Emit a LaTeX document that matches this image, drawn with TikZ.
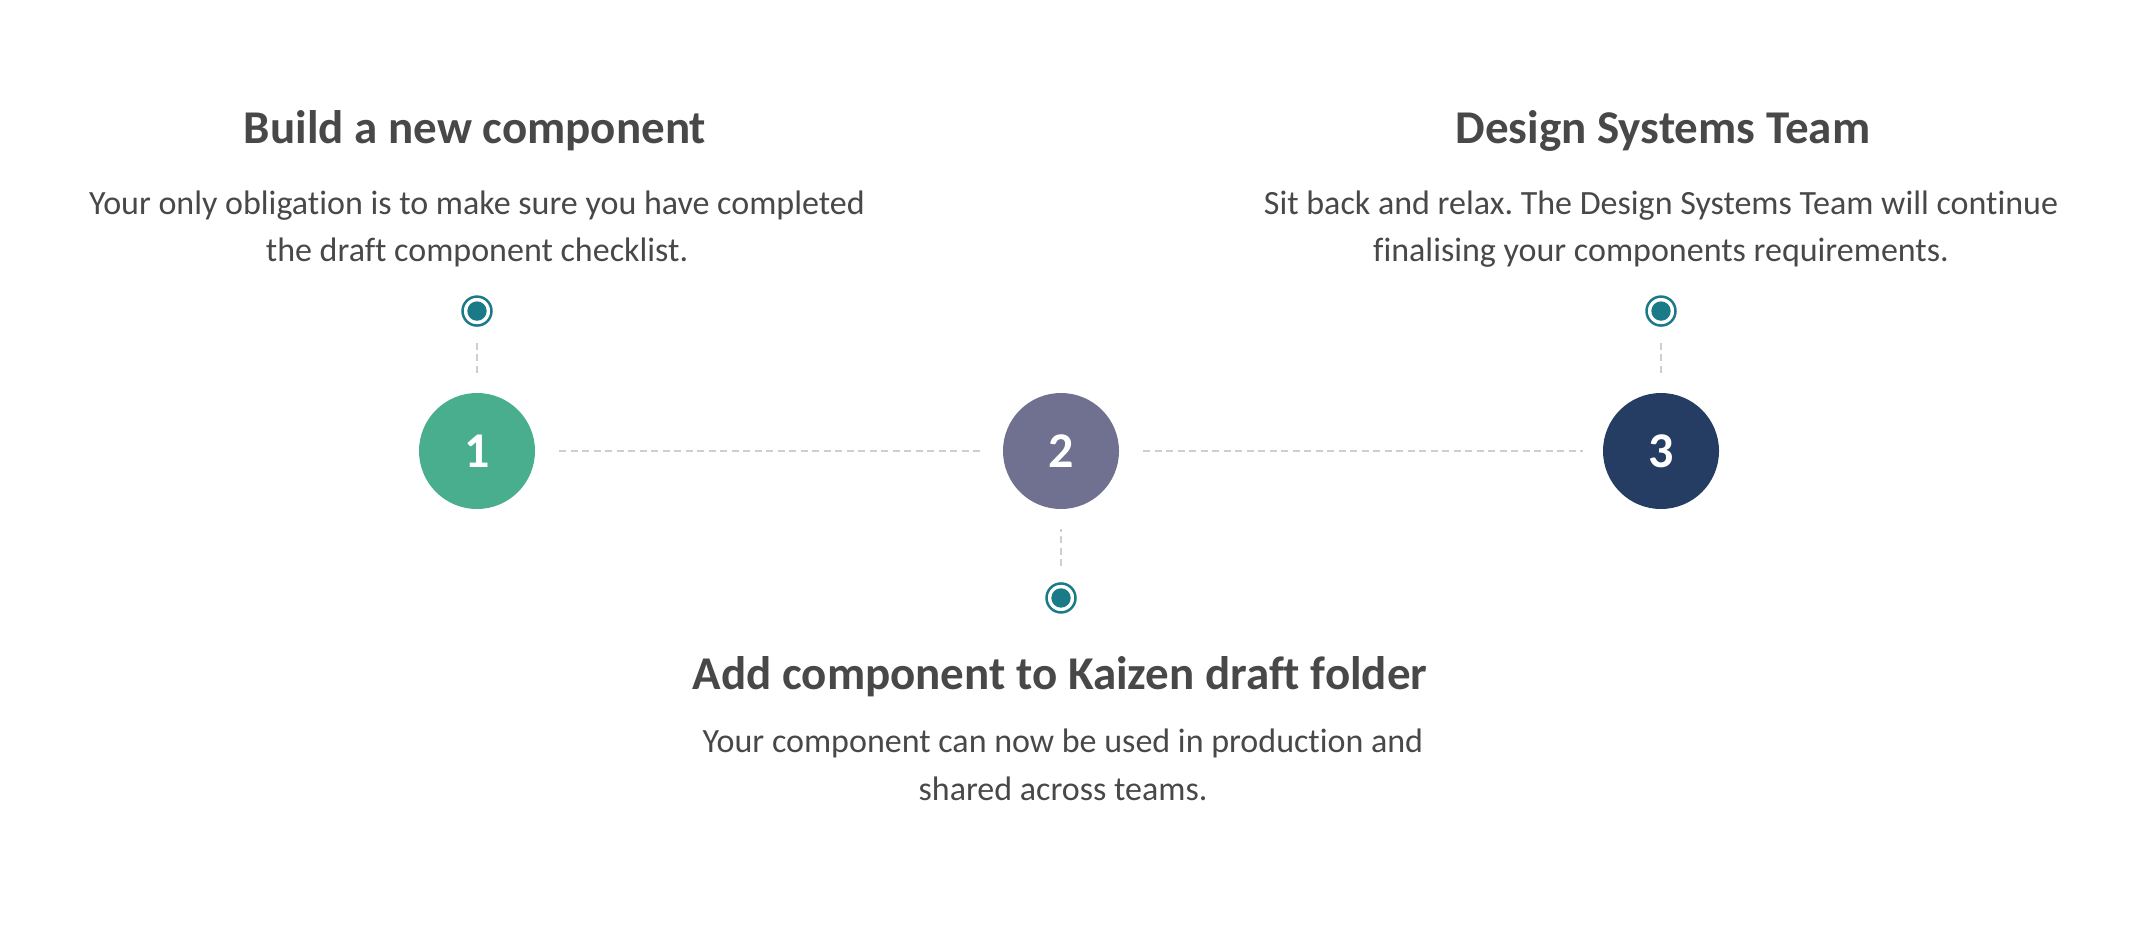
\documentclass[tikz,border=0pt]{standalone}
\usepackage{fontspec}
\setmainfont[Ligatures=NoCommon]{Carlito}
\frenchspacing
\usetikzlibrary{positioning}
\definecolor{stepgreen}{RGB}{72,174,142}
\definecolor{steppurple}{RGB}{112,112,144}
\definecolor{stepnavy}{RGB}{37,61,99}
\definecolor{pinteal}{RGB}{27,122,135}
\definecolor{dashgray}{RGB}{206,206,206}
\definecolor{textgray}{RGB}{72,72,72}

\begin{document}
\begin{tikzpicture}[
    x=1pt, y=-1pt,
    stepnum/.style  = {circle, minimum size=116pt, inner sep=0pt, text=white,
                       font=\fontsize{50}{50}\selectfont\bfseries},
    pin/.style      = {circle, minimum size=29pt, inner sep=0pt, draw=pinteal,
                       line width=2.5pt, fill=white,
                       path picture={\fill[pinteal] (path picture bounding box.center) circle (9.7pt);}},
    title/.style    = {anchor=base, inner sep=0pt, text=textgray,
                       font=\fontsize{47}{47}\selectfont\bfseries},
    body/.style     = {anchor=base, inner sep=0pt, align=center, text=textgray,
                       font=\fontsize{34}{47.4}\selectfont},
    hdash/.style    = {draw=dashgray, line width=1.7pt, dash pattern=on 7pt off 4.5pt,
                       shorten <=24pt, shorten >=20pt},
    vdash/.style    = {draw=dashgray, line width=1.7pt, dash pattern=on 7pt off 4.5pt,
                       shorten <=16pt, shorten >=20pt},
  ]
  \useasboundingbox (0,0) rectangle (2152,924);

  % steps
  \node[stepnum, fill=stepgreen]  (step1) at (477,451)  {1};
  \node[stepnum, fill=steppurple] (step2) at (1061,451) {2};
  \node[stepnum, fill=stepnavy]   (step3) at (1661,451) {3};

  % pins
  \node[pin, above=66pt of step1] (pin1) {};
  \node[pin, below=73pt of step2] (pin2) {};
  \node[pin, above=66pt of step3] (pin3) {};

  % texts (body nodes sit on the baseline of their last line)
  \node[title] (title1) at (475,143) {Build a new component};
  \node[body]  (body1)  at (477,261.7) {Your only obligation is to make sure you have completed\\the draft component checklist.};
  \node[title] (title2) at (1060,689) {Add component to Kaizen draft folder};
  \node[body]  (body2)  at (1063,800) {Your component can now be used in production and\\shared across teams.};
  \node[title] (title3) at (1663,143) {Design Systems Team};
  \node[body]  (body3)  at (1661,261.7) {Sit back and relax. The Design Systems Team will continue\\finalising your components requirements.};

  % connectors
  \draw[hdash] (step1) -- (step2);
  \draw[hdash] (step2) -- (step3);
  \draw[vdash] (pin1) -- (step1);
  \draw[vdash] (pin2) -- (step2);
  \draw[vdash] (pin3) -- (step3);
\end{tikzpicture}
\end{document}
